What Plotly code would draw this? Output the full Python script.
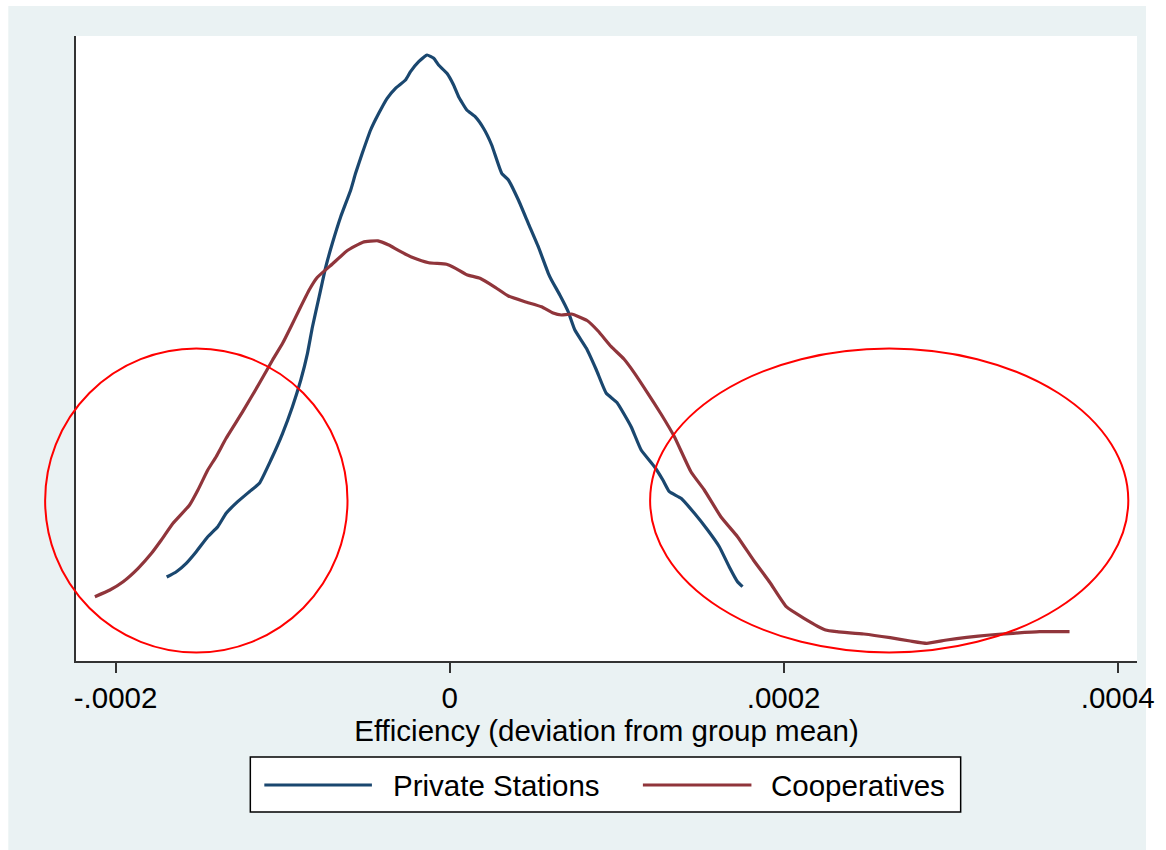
import plotly.graph_objects as go

# Kernel density estimates of efficiency (deviation from group mean)
# x values in units of 1e-4, density in arbitrary units
private_x = [-1.694, -1.636, -1.577, -1.517, -1.448, -1.388, -1.338, -1.269, -1.199, -1.139,
             -1.070, -1.000, -0.941, -0.891, -0.851, -0.821, -0.781, -0.741, -0.702, -0.652,
             -0.592, -0.563, -0.523, -0.473, -0.424, -0.374, -0.324, -0.264, -0.234, -0.185,
             -0.135, -0.095, -0.066, -0.016, 0.024, 0.054, 0.103, 0.153, 0.203, 0.252,
             0.312, 0.352, 0.412, 0.471, 0.531, 0.591, 0.610, 0.660, 0.710, 0.750,
             0.819, 0.879, 0.938, 1.002, 1.087, 1.147, 1.227, 1.277, 1.316, 1.386,
             1.466, 1.545, 1.615, 1.674, 1.724, 1.754]
private_y = [840, 893, 977, 1093, 1243, 1343, 1477, 1593, 1693, 1777,
             2010, 2277, 2543, 2810, 3077, 3343, 3643, 3943, 4177, 4443,
             4710, 4877, 5077, 5310, 5477, 5627, 5727, 5810, 5893, 5993,
             6060, 6027, 5960, 5877, 5760, 5643, 5510, 5443, 5327, 5160,
             4877, 4810, 4610, 4377, 4143, 3877, 3810, 3660, 3493, 3310,
             3127, 2910, 2677, 2585, 2343, 2110, 1943, 1810, 1693, 1627,
             1477, 1310, 1143, 943, 793, 743]

coop_x = [-2.124, -2.034, -1.955, -1.865, -1.785, -1.726, -1.656, -1.557, -1.507, -1.448,
          -1.398, -1.338, -1.239, -1.139, -1.060, -1.000, -0.950, -0.901, -0.841, -0.793,
          -0.702, -0.614, -0.519, -0.429, -0.364, -0.304, -0.221, -0.125, -0.018, 0.036,
          0.103, 0.182, 0.273, 0.352, 0.452, 0.550, 0.620, 0.670, 0.730, 0.823,
          0.889, 0.968, 1.044, 1.108, 1.187, 1.266, 1.346, 1.445, 1.525, 1.624,
          1.724, 1.819, 1.918, 2.016, 2.122, 2.251, 2.320, 2.480, 2.638, 2.758,
          2.857, 2.977, 3.096, 3.235, 3.374, 3.533, 3.712]
coop_y = [643, 710, 793, 927, 1077, 1210, 1377, 1560, 1710, 1910,
          2043, 2227, 2493, 2777, 3010, 3177, 3343, 3510, 3710, 3835,
          3970, 4102, 4188, 4202, 4160, 4103, 4035, 3983, 3968, 3927,
          3863, 3827, 3737, 3650, 3593, 3543, 3480, 3460, 3470, 3405,
          3300, 3143, 3020, 2877, 2677, 2470, 2243, 1893, 1710, 1443,
          1243, 1010, 785, 543, 427, 310, 293, 270, 233, 200,
          177, 210, 237, 260, 277, 293, 293]

series_names = ["Private Stations", "Cooperatives"]
series_colors = ["#1A476F", "#90353B"]

tick_vals = [-0.0002, 0, 0.0002, 0.0004]
tick_text = ["-.0002", "0", ".0002", ".0004"]
x_title = "Efficiency (deviation from group mean)"

FONT = "Arial, Liberation Sans, sans-serif"
FS = 29.5
BG = "#EAF2F3"

fig = go.Figure()
for xs, ys, name, color in zip([private_x, coop_x], [private_y, coop_y],
                               series_names, series_colors):
    fig.add_trace(go.Scatter(
        x=[v * 1e-4 for v in xs], y=ys, mode="lines", name=name,
        line=dict(color=color, width=3.2, shape="spline", smoothing=0.4),
        showlegend=False, hoverinfo="skip"))

shapes = [
    # outer graph region
    dict(type="rect", xref="paper", yref="paper", x0=-0.0638, x1=1.0085,
         y0=-0.3024, y1=1.048, fillcolor=BG, line=dict(width=0), layer="below"),
    # plot region
    dict(type="rect", xref="paper", yref="paper", x0=0, x1=1, y0=0, y1=1,
         fillcolor="white", line=dict(width=0), layer="below"),
    # highlighted tails
    dict(type="circle", xref="paper", yref="paper", x0=-0.0291, x1=0.2559,
         y0=0.0136, y1=0.5, line=dict(color="#FF0000", width=2)),
    dict(type="circle", xref="paper", yref="paper", x0=0.5411, x1=0.9918,
         y0=0.0136, y1=0.5, line=dict(color="#FF0000", width=2)),
    # legend box
    dict(type="rect", xref="paper", yref="paper", x0=0.1643, x1=0.8338,
         y0=-0.2416, y1=-0.1536, fillcolor="white", line=dict(color="black", width=1.5)),
]

legend_lines = [(0.1775, 0.2789), (0.5343, 0.6366)]
legend_text_x = [0.2967, 0.6535]
annotations = []
for (lx0, lx1), tx, name, color in zip(legend_lines, legend_text_x, series_names, series_colors):
    shapes.append(dict(type="line", xref="paper", yref="paper", x0=lx0, x1=lx1,
                       y0=-0.1984, y1=-0.1984, line=dict(color=color, width=3)))
    annotations.append(dict(xref="paper", yref="paper", x=tx, y=-0.1984, text=name,
                            showarrow=False, xanchor="left", yanchor="middle",
                            font=dict(family=FONT, size=FS, color="black")))

fig.update_layout(
    width=1166, height=850,
    margin=dict(l=76, r=25, t=36, b=189),
    paper_bgcolor="white", plot_bgcolor="white",
    font=dict(family=FONT, size=FS, color="black"),
    shapes=shapes, annotations=annotations,
    xaxis=dict(range=[-2.237e-4, 4.116e-4], tickvals=tick_vals, ticktext=tick_text,
               showgrid=False, zeroline=False, showline=True, linecolor="#333333",
               linewidth=1.5, ticks="outside", ticklen=10, tickwidth=1.5, tickcolor="#333333",
               tickfont=dict(family=FONT, size=FS, color="black"),
               title=dict(text=x_title, standoff=0, font=dict(family=FONT, size=FS, color="black"))),
    yaxis=dict(range=[0, 6250], showgrid=False, zeroline=False, showline=True,
               linecolor="#333333", linewidth=2, showticklabels=False, ticks=""),
)

fig.write_html("out.html")
